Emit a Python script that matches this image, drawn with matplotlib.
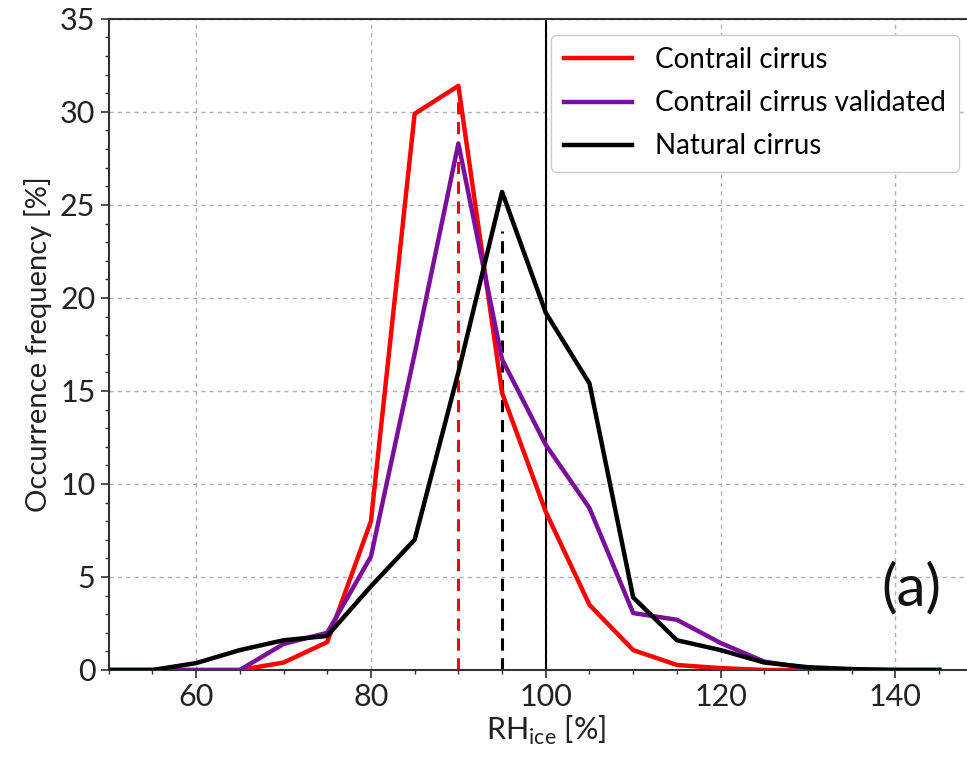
import numpy as np
import matplotlib.pyplot as plt
from matplotlib.ticker import MultipleLocator

plt.rcParams['font.family'] = ['Lato', 'DejaVu Sans']
plt.rcParams['mathtext.fontset'] = 'custom'
plt.rcParams['mathtext.rm'] = 'Lato'

# RH_ice bins (%)
rh = [50, 55, 60, 65, 70, 75, 80, 85, 90, 95, 100, 105, 110, 115, 120, 125, 130, 135, 140, 145]

# occurrence frequency (%)
contrail = [0, 0, 0, 0, 0.4, 1.5, 8.0, 29.9, 31.4, 14.9, 8.5, 3.5, 1.07, 0.27, 0.1, 0, 0, 0, 0, 0]
contrail_valid = [0, 0, 0, 0, 1.4, 2.0, 6.1, 17.0, 28.3, 16.7, 12.1, 8.7, 3.06, 2.7, 1.45, 0.45, 0.1, 0, 0, 0]
natural = [0, 0, 0.37, 1.07, 1.6, 1.83, 4.5, 7.0, 16.0, 25.7, 19.2, 15.4, 3.9, 1.6, 1.07, 0.4, 0.15, 0.05, 0, 0]

labels = ['Contrail cirrus', 'Contrail cirrus validated', 'Natural cirrus']
colors = ['#ff0000', '#7b0f9b', 'black']

# dashed markers (modal values) and saturation line
mode_contrail = (90, 31.0)
mode_natural = (95, 23.6)
saturation = 100

fig = plt.figure(figsize=(9.67, 7.58), dpi=100)
ax = fig.add_axes([0.1124, 0.1161, 0.904, 0.859])

for series, lab, col in zip([contrail, contrail_valid, natural], labels, colors):
    ax.plot(rh, series, color=col, lw=3.2, label=lab, zorder=3)

ax.vlines(mode_contrail[0], 0, mode_contrail[1], colors=colors[0], linestyles=(0, (4, 2.5)), lw=2.2, zorder=2)
ax.vlines(mode_natural[0], 0, mode_natural[1], colors='black', linestyles=(0, (4, 2.5)), lw=2.2, zorder=2)
ax.axvline(saturation, color='black', lw=1.5, zorder=2)

ax.set_xlim(50, 150)
ax.set_ylim(0, 35)
ax.xaxis.set_major_locator(MultipleLocator(20))
ax.xaxis.set_minor_locator(MultipleLocator(5))
ax.yaxis.set_major_locator(MultipleLocator(5))
ax.yaxis.set_minor_locator(MultipleLocator(1))
ax.grid(True, which='major', color='#b0b0b0', ls=(0, (3, 3)), lw=1.0)
ax.set_axisbelow(True)

ax.tick_params(which='major', labelsize=22, length=6, width=1.2, colors='#333333', labelcolor='#222222')
ax.tick_params(which='minor', length=3, width=1.0, colors='#333333')
for sp in ax.spines.values():
    sp.set_color('#333333')
    sp.set_linewidth(1.5)

ax.set_xlabel('RH$_\\mathregular{ice}$ [%]', fontsize=22, color='#222222', labelpad=2)
ax.set_ylabel('Occurrence frequency [%]', fontsize=21, color='#222222', labelpad=6)

ax.text(141.8, 4.4, '(a)', fontsize=42, ha='center', va='center', color='#111111')

leg = ax.legend(loc='upper left', bbox_to_anchor=(0.506, 0.976), borderaxespad=0, fontsize=20,
                handlelength=2.45, handletextpad=0.86, borderpad=0.45, labelspacing=0.62,
                framealpha=1.0, edgecolor='#cccccc')

fig.savefig('out.png', dpi=100)
